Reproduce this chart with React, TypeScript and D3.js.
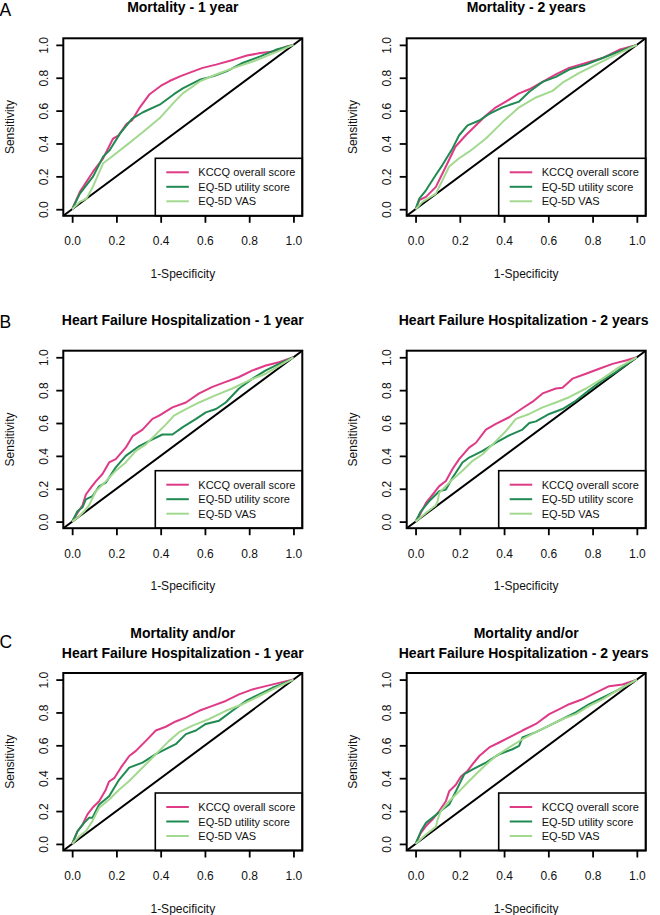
import React, { useRef, useEffect } from 'react';
import * as d3 from 'd3';

type Pt = [number, number];

const seriesNames = ['KCCQ overall score', 'EQ-5D utility score', 'EQ-5D VAS'];
const seriesColors = ['#df3a86', '#1f8a52', '#a3d98f'];
const rowLetters = ['A', 'B', 'C'];
const panelTitles = [
  ['Mortality - 1 year'],
  ['Mortality - 2 years'],
  ['Heart Failure Hospitalization - 1 year'],
  ['Heart Failure Hospitalization - 2 years'],
  ['Mortality and/or', 'Heart Failure Hospitalization - 1 year'],
  ['Mortality and/or', 'Heart Failure Hospitalization - 2 years'],
];
const tickValues = [0, 0.2, 0.4, 0.6, 0.8, 1.0];

// ROC points: [1-specificity, sensitivity]
const mort1yKCCQ: Pt[] = [[0,0],[0.035,0.106],[0.095,0.23],[0.14,0.31],[0.185,0.43],[0.21,0.45],[0.246,0.52],[0.27,0.54],[0.306,0.62],[0.35,0.70],[0.40,0.75],[0.44,0.78],[0.49,0.81],[0.55,0.84],[0.59,0.86],[0.65,0.88],[0.73,0.91],[0.79,0.935],[0.85,0.95],[0.91,0.96],[0.97,0.99],[1,1]];
const mort1yEQ5D: Pt[] = [[0,0],[0.035,0.095],[0.095,0.20],[0.14,0.32],[0.17,0.36],[0.216,0.46],[0.27,0.55],[0.32,0.59],[0.40,0.64],[0.46,0.70],[0.50,0.735],[0.58,0.79],[0.64,0.81],[0.70,0.84],[0.77,0.89],[0.85,0.93],[0.92,0.97],[1,1]];
const mort1yVAS: Pt[] = [[0,0],[0.035,0.045],[0.065,0.065],[0.095,0.14],[0.14,0.28],[0.17,0.31],[0.246,0.39],[0.32,0.47],[0.40,0.56],[0.46,0.65],[0.50,0.705],[0.58,0.78],[0.65,0.82],[0.73,0.86],[0.82,0.90],[0.91,0.95],[1,1]];

const mort2yKCCQ: Pt[] = [[0,0],[0.017,0.055],[0.047,0.075],[0.092,0.136],[0.137,0.26],[0.18,0.38],[0.227,0.45],[0.265,0.50],[0.318,0.57],[0.363,0.62],[0.408,0.655],[0.468,0.705],[0.514,0.73],[0.574,0.775],[0.634,0.82],[0.694,0.86],[0.77,0.89],[0.845,0.92],[0.92,0.97],[1,1]];
const mort2yEQ5D: Pt[] = [[0,0],[0.017,0.065],[0.047,0.115],[0.092,0.21],[0.122,0.27],[0.167,0.37],[0.197,0.45],[0.235,0.51],[0.288,0.54],[0.333,0.58],[0.393,0.62],[0.468,0.655],[0.514,0.715],[0.574,0.775],[0.634,0.805],[0.694,0.85],[0.77,0.88],[0.845,0.92],[0.92,0.96],[1,1]];
const mort2yVAS: Pt[] = [[0,0],[0.032,0.045],[0.092,0.095],[0.152,0.26],[0.197,0.31],[0.242,0.35],[0.318,0.43],[0.393,0.53],[0.468,0.62],[0.544,0.68],[0.619,0.72],[0.664,0.77],[0.74,0.83],[0.815,0.88],[0.89,0.93],[1,1]];

const hf1yKCCQ: Pt[] = [[0,0],[0.024,0.053],[0.047,0.10],[0.062,0.165],[0.084,0.205],[0.107,0.245],[0.137,0.29],[0.167,0.36],[0.197,0.38],[0.242,0.45],[0.273,0.52],[0.318,0.56],[0.363,0.625],[0.393,0.645],[0.453,0.695],[0.514,0.725],[0.574,0.78],[0.634,0.82],[0.694,0.85],[0.754,0.88],[0.815,0.92],[0.875,0.95],[0.935,0.97],[1,1]];
const hf1yEQ5D: Pt[] = [[0,0],[0.024,0.063],[0.047,0.088],[0.062,0.135],[0.092,0.155],[0.122,0.215],[0.152,0.237],[0.197,0.33],[0.242,0.40],[0.303,0.46],[0.363,0.50],[0.408,0.53],[0.453,0.53],[0.50,0.575],[0.56,0.625],[0.604,0.665],[0.65,0.685],[0.694,0.725],[0.754,0.81],[0.815,0.87],[0.875,0.92],[0.935,0.96],[1,1]];
const hf1yVAS: Pt[] = [[0,0],[0.032,0.033],[0.054,0.063],[0.077,0.10],[0.107,0.185],[0.152,0.245],[0.197,0.31],[0.242,0.36],[0.288,0.43],[0.333,0.47],[0.378,0.53],[0.423,0.59],[0.46,0.645],[0.514,0.685],[0.574,0.725],[0.65,0.77],[0.724,0.81],[0.80,0.86],[0.875,0.90],[0.95,0.96],[1,1]];

const hf2yKCCQ: Pt[] = [[0,0],[0.024,0.053],[0.047,0.114],[0.077,0.165],[0.107,0.216],[0.137,0.247],[0.167,0.32],[0.197,0.38],[0.242,0.45],[0.273,0.48],[0.318,0.56],[0.363,0.595],[0.423,0.635],[0.483,0.69],[0.529,0.73],[0.574,0.78],[0.634,0.81],[0.664,0.815],[0.709,0.87],[0.77,0.90],[0.83,0.93],[0.89,0.96],[0.95,0.98],[1,1]];
const hf2yEQ5D: Pt[] = [[0,0],[0.024,0.063],[0.047,0.10],[0.062,0.125],[0.107,0.185],[0.137,0.196],[0.167,0.267],[0.212,0.36],[0.242,0.39],[0.303,0.43],[0.363,0.48],[0.423,0.525],[0.483,0.56],[0.514,0.60],[0.544,0.61],[0.604,0.655],[0.664,0.685],[0.724,0.735],[0.785,0.80],[0.845,0.86],[0.905,0.91],[1,1]];
const hf2yVAS: Pt[] = [[0,0],[0.047,0.053],[0.092,0.10],[0.10,0.125],[0.107,0.175],[0.167,0.257],[0.212,0.31],[0.258,0.37],[0.303,0.41],[0.363,0.49],[0.408,0.55],[0.453,0.625],[0.514,0.655],[0.574,0.695],[0.634,0.725],[0.694,0.757],[0.77,0.81],[0.845,0.87],[0.92,0.94],[1,1]];

const comb1yKCCQ: Pt[] = [[0,0],[0.024,0.077],[0.047,0.118],[0.069,0.18],[0.092,0.22],[0.122,0.26],[0.152,0.33],[0.167,0.38],[0.19,0.40],[0.22,0.464],[0.258,0.535],[0.288,0.566],[0.333,0.627],[0.378,0.69],[0.423,0.713],[0.468,0.745],[0.514,0.77],[0.574,0.81],[0.634,0.84],[0.694,0.87],[0.754,0.91],[0.815,0.94],[0.875,0.96],[0.935,0.98],[1,1]];
const comb1yEQ5D: Pt[] = [[0,0],[0.024,0.077],[0.054,0.128],[0.077,0.16],[0.092,0.16],[0.122,0.24],[0.167,0.29],[0.212,0.39],[0.258,0.464],[0.318,0.495],[0.378,0.546],[0.438,0.587],[0.468,0.607],[0.514,0.668],[0.559,0.69],[0.604,0.73],[0.664,0.75],[0.724,0.81],[0.785,0.87],[0.845,0.91],[0.905,0.95],[1,1]];
const comb1yVAS: Pt[] = [[0,0],[0.032,0.047],[0.062,0.077],[0.092,0.14],[0.122,0.22],[0.167,0.27],[0.212,0.33],[0.258,0.383],[0.303,0.444],[0.348,0.505],[0.393,0.566],[0.438,0.627],[0.483,0.68],[0.544,0.72],[0.619,0.76],[0.694,0.81],[0.77,0.85],[0.845,0.90],[0.92,0.95],[1,1]];

const comb2yKCCQ: Pt[] = [[0,0],[0.024,0.067],[0.047,0.108],[0.077,0.15],[0.107,0.20],[0.137,0.26],[0.152,0.32],[0.182,0.36],[0.205,0.41],[0.235,0.444],[0.258,0.485],[0.288,0.535],[0.333,0.587],[0.378,0.617],[0.423,0.648],[0.483,0.69],[0.544,0.73],[0.604,0.79],[0.65,0.82],[0.694,0.85],[0.754,0.88],[0.815,0.92],[0.875,0.96],[0.935,0.97],[1,1]];
const comb2yEQ5D: Pt[] = [[0,0],[0.024,0.077],[0.047,0.128],[0.077,0.16],[0.122,0.21],[0.152,0.24],[0.182,0.32],[0.22,0.424],[0.258,0.454],[0.318,0.495],[0.378,0.546],[0.438,0.576],[0.468,0.597],[0.483,0.648],[0.544,0.68],[0.604,0.72],[0.664,0.76],[0.724,0.80],[0.785,0.85],[0.845,0.89],[0.905,0.93],[1,1]];
const comb2yVAS: Pt[] = [[0,0],[0.047,0.057],[0.092,0.105],[0.10,0.15],[0.114,0.20],[0.152,0.26],[0.197,0.32],[0.242,0.383],[0.303,0.464],[0.363,0.535],[0.423,0.587],[0.483,0.637],[0.544,0.68],[0.604,0.72],[0.664,0.76],[0.724,0.79],[0.785,0.84],[0.845,0.88],[0.92,0.94],[1,1]];

const panelCurves = [
  [mort1yKCCQ, mort1yEQ5D, mort1yVAS],
  [mort2yKCCQ, mort2yEQ5D, mort2yVAS],
  [hf1yKCCQ, hf1yEQ5D, hf1yVAS],
  [hf2yKCCQ, hf2yEQ5D, hf2yVAS],
  [comb1yKCCQ, comb1yEQ5D, comb1yVAS],
  [comb2yKCCQ, comb2yEQ5D, comb2yVAS],
];

const W = 660, H = 915;
const boxLeft = [63.3, 406.7];
const boxTop = [38.3, 350.7, 673];
const boxW = 239, boxH = 177.5;
const FONT = '"Liberation Sans", Arial, Helvetica, sans-serif';

const App = () => {
  const svgRef = useRef<SVGSVGElement>(null);

  useEffect(() => {
    const svg = d3.select(svgRef.current);
    svg.selectAll('*').remove();
    svg.append('rect').attr('width', W).attr('height', H).attr('fill', '#fff');

    rowLetters.forEach((l, r) => {
      svg.append('text')
        .attr('x', -0.5).attr('y', boxTop[r] - (r === 2 ? 25 : 22.5))
        .attr('font-family', FONT).attr('font-size', 17.5)
        .text(l);
    });

    panelCurves.forEach((curves, i) => {
      const row = Math.floor(i / 2), col = i % 2;
      const left = boxLeft[col], top = boxTop[row];
      const right = left + boxW, bottom = top + boxH;
      const x = d3.scaleLinear().domain([-0.04, 1.04]).range([left, right]);
      const y = d3.scaleLinear().domain([-0.04, 1.04]).range([bottom, top]);
      const g = svg.append('g').attr('font-family', FONT);

      // title, kept inside the figure's right edge
      const lines = panelTitles[i];
      lines.forEach((t, k) => {
        const base = lines.length === 1 ? top - 26 : top - 35 + k * 19.8;
        const cx = (left + right) / 2;
        const txt = g.append('text')
          .attr('x', cx).attr('y', base)
          .attr('text-anchor', 'middle')
          .attr('font-size', 14).attr('font-weight', 'bold')
          .text(t);
        const len = (txt.node() as SVGTextElement).getComputedTextLength();
        const over = cx + len / 2 - 648.5;
        if (over > 0) txt.attr('x', cx - over);
      });

      // reference line
      g.append('line')
        .attr('x1', x(-0.04)).attr('y1', y(-0.04))
        .attr('x2', x(1.04)).attr('y2', y(1.04))
        .attr('stroke', '#000').attr('stroke-width', 2);

      const line = d3.line<Pt>().x(d => x(d[0])).y(d => y(d[1]));
      curves.forEach((c, k) => {
        g.append('path')
          .datum(c)
          .attr('d', line)
          .attr('fill', 'none')
          .attr('stroke', seriesColors[k])
          .attr('stroke-width', 2)
          .attr('stroke-linejoin', 'round');
      });

      // legend
      const lgW = 147, lgH = 57.5;
      const lx = right - lgW, ly = bottom - lgH;
      g.append('rect')
        .attr('x', lx).attr('y', ly).attr('width', lgW).attr('height', lgH)
        .attr('fill', '#fff').attr('stroke', '#000').attr('stroke-width', 1.6);
      seriesNames.forEach((name, k) => {
        const ry = ly + 14 + k * 14.5;
        g.append('line')
          .attr('x1', lx + 11).attr('x2', lx + 33.5)
          .attr('y1', ry).attr('y2', ry)
          .attr('stroke', seriesColors[k]).attr('stroke-width', 2);
        g.append('text')
          .attr('x', lx + 43).attr('y', ry + 4)
          .attr('font-size', 11).attr('fill', '#111')
          .text(name);
      });

      // axes
      const xAxis = g.append('g')
        .attr('transform', `translate(0,${bottom})`)
        .call(d3.axisBottom(x).tickValues(tickValues).tickSize(7).tickFormat(d3.format('.1f')));
      const yAxis = g.append('g')
        .attr('transform', `translate(${left},0)`)
        .call(d3.axisLeft(y).tickValues(tickValues).tickSize(7).tickFormat(d3.format('.1f')));
      [xAxis, yAxis].forEach(a => {
        a.select('.domain').remove();
        a.selectAll('.tick line').attr('stroke', '#000').attr('stroke-width', 1.8);
        a.selectAll('.tick text')
          .attr('font-family', FONT).attr('font-size', 12).attr('fill', '#111');
      });
      xAxis.selectAll('.tick text').attr('y', 29.5).attr('dy', 0);
      yAxis.selectAll('.tick text')
        .attr('x', 0).attr('dy', 0)
        .attr('text-anchor', 'middle')
        .attr('transform', 'translate(-15.5,0) rotate(-90)');

      // plot box
      g.append('rect')
        .attr('x', left).attr('y', top).attr('width', boxW).attr('height', boxH)
        .attr('fill', 'none').attr('stroke', '#000').attr('stroke-width', 2);

      // axis labels
      g.append('text')
        .attr('x', (left + right) / 2).attr('y', bottom + 62)
        .attr('text-anchor', 'middle').attr('font-size', 12).attr('fill', '#111')
        .text('1-Specificity');
      g.append('text')
        .attr('transform', `translate(${left - 49.5},${(top + bottom) / 2}) rotate(-90)`)
        .attr('text-anchor', 'middle').attr('font-size', 12).attr('fill', '#111')
        .text('Sensitivity');
    });
  }, []);

  return (
    <svg ref={svgRef} width={W} height={H}
      style={{ position: 'absolute', left: 0, top: 0, display: 'block' }} />
  );
};

export default App;
